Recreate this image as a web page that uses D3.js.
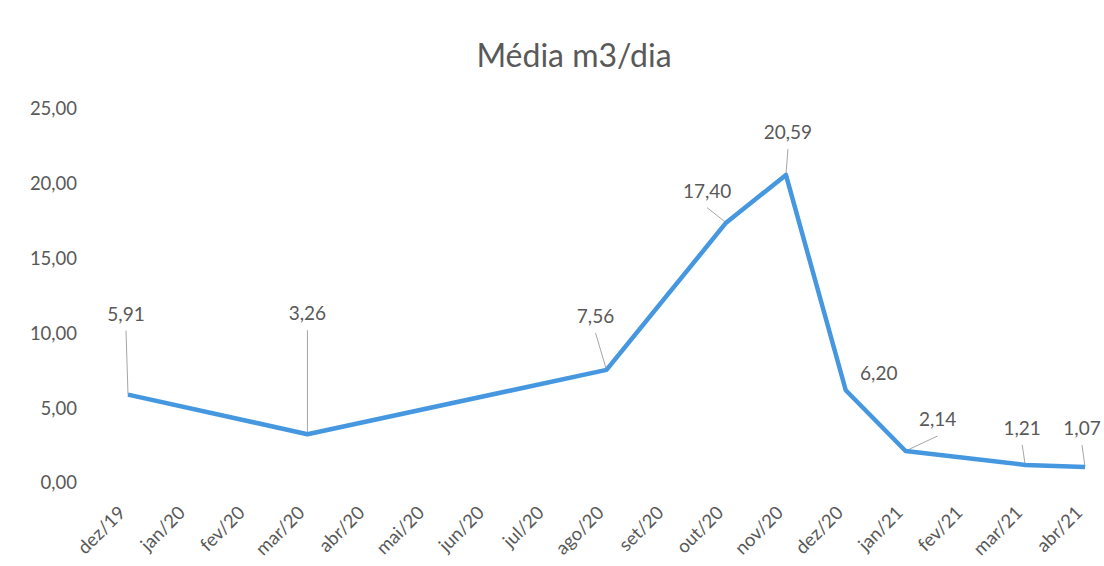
<!DOCTYPE html>
<html>
<head>
<meta charset="utf-8">
<script src="https://cdn.jsdelivr.net/npm/d3@7"></script>
<style>
  body { margin: 0; background: #fff; }
  text { font-family: Lato, "Open Sans", sans-serif; fill: #595959; }
</style>
</head>
<body>
<div id="grafico"></div>
<script>
// Dados do gráfico
var meses = ["dez/19", "jan/20", "fev/20", "mar/20", "abr/20", "mai/20", "jun/20", "jul/20",
             "ago/20", "set/20", "out/20", "nov/20", "dez/20", "jan/21", "fev/21", "mar/21", "abr/21"];
var mesesMedidos = ["dez/19", "mar/20", "ago/20", "out/20", "nov/20", "dez/20", "jan/21", "mar/21", "abr/21"];
var mediaDia = [5.91, 3.26, 7.56, 17.40, 20.59, 6.20, 2.14, 1.21, 1.07];
var ticksY = [0, 5, 10, 15, 20, 25];

// Deslocamento dos rótulos (dx, dy) e se tem linha de chamada
var rotulos = [
    { dx: -2, dy: -74, linha: true },
    { dx: 0, dy: -114, linha: true },
    { dx: -11, dy: -47, linha: true },
    { dx: -19, dy: -25, linha: true },
    { dx: 2, dy: -36, linha: true },
    { dx: 33, dy: -10, linha: false },
    { dx: 32, dy: -25, linha: true },
    { dx: -3, dy: -30, linha: true },
    { dx: -3, dy: -32, linha: true }
];

var largura = 1104, altura = 566;
var fmt = function(v) { return v.toFixed(2).replace(".", ","); };

var svg = d3.select("#grafico").append("svg")
    .attr("width", largura)
    .attr("height", altura);

var x = d3.scalePoint().domain(meses).range([128, 1085]);
var y = d3.scaleLinear().domain([0, 25]).range([483, 109]);

// Título
svg.append("text")
    .attr("x", 574)
    .attr("y", 67)
    .attr("text-anchor", "middle")
    .style("font-size", "32px")
    .text("Média m3/dia");

// Eixo Y (só os rótulos)
var eixoY = svg.append("g")
    .attr("transform", "translate(77,0)")
    .call(d3.axisLeft(y).tickValues(ticksY).tickFormat(fmt).tickSize(0).tickPadding(0));
eixoY.select(".domain").remove();
eixoY.selectAll("text").style("font-size", "18.5px").attr("fill", "#595959");

// Eixo X
var eixoX = svg.append("g")
    .call(d3.axisBottom(x).tickSize(0).tickPadding(0));
eixoX.select(".domain").remove();
eixoX.selectAll("text")
    .style("font-size", "18.5px")
    .attr("fill", "#595959")
    .attr("text-anchor", "end")
    .attr("y", 0)
    .attr("dy", 0)
    .attr("transform", "translate(-2,514) rotate(-45)");

// Pontos
var pontos = mesesMedidos.map(function(m, i) {
    return { mes: m, valor: mediaDia[i], r: rotulos[i] };
});

// Linhas de chamada
svg.selectAll("line.chamada")
    .data(pontos.filter(function(d) { return d.r.linha; }))
    .enter().append("line")
    .attr("class", "chamada")
    .attr("x1", function(d) { return x(d.mes) + d.r.dx; })
    .attr("y1", function(d) { return y(d.valor) + d.r.dy + 10; })
    .attr("x2", function(d) { return x(d.mes); })
    .attr("y2", function(d) { return y(d.valor); })
    .attr("stroke", "#a6a6a6")
    .attr("stroke-width", 1);

// Linha da série
var linha = d3.line()
    .x(function(d) { return x(d.mes); })
    .y(function(d) { return y(d.valor); });

svg.append("path")
    .datum(pontos)
    .attr("d", linha)
    .attr("fill", "none")
    .attr("stroke", "#4597e0")
    .attr("stroke-width", 4.5)
    .attr("stroke-linejoin", "round");

// Rótulos dos dados
svg.selectAll("text.rotulo")
    .data(pontos)
    .enter().append("text")
    .attr("class", "rotulo")
    .attr("x", function(d) { return x(d.mes) + d.r.dx; })
    .attr("y", function(d) { return y(d.valor) + d.r.dy; })
    .attr("text-anchor", "middle")
    .style("font-size", "19px")
    .text(function(d) { return fmt(d.valor); });
</script>
</body>
</html>
